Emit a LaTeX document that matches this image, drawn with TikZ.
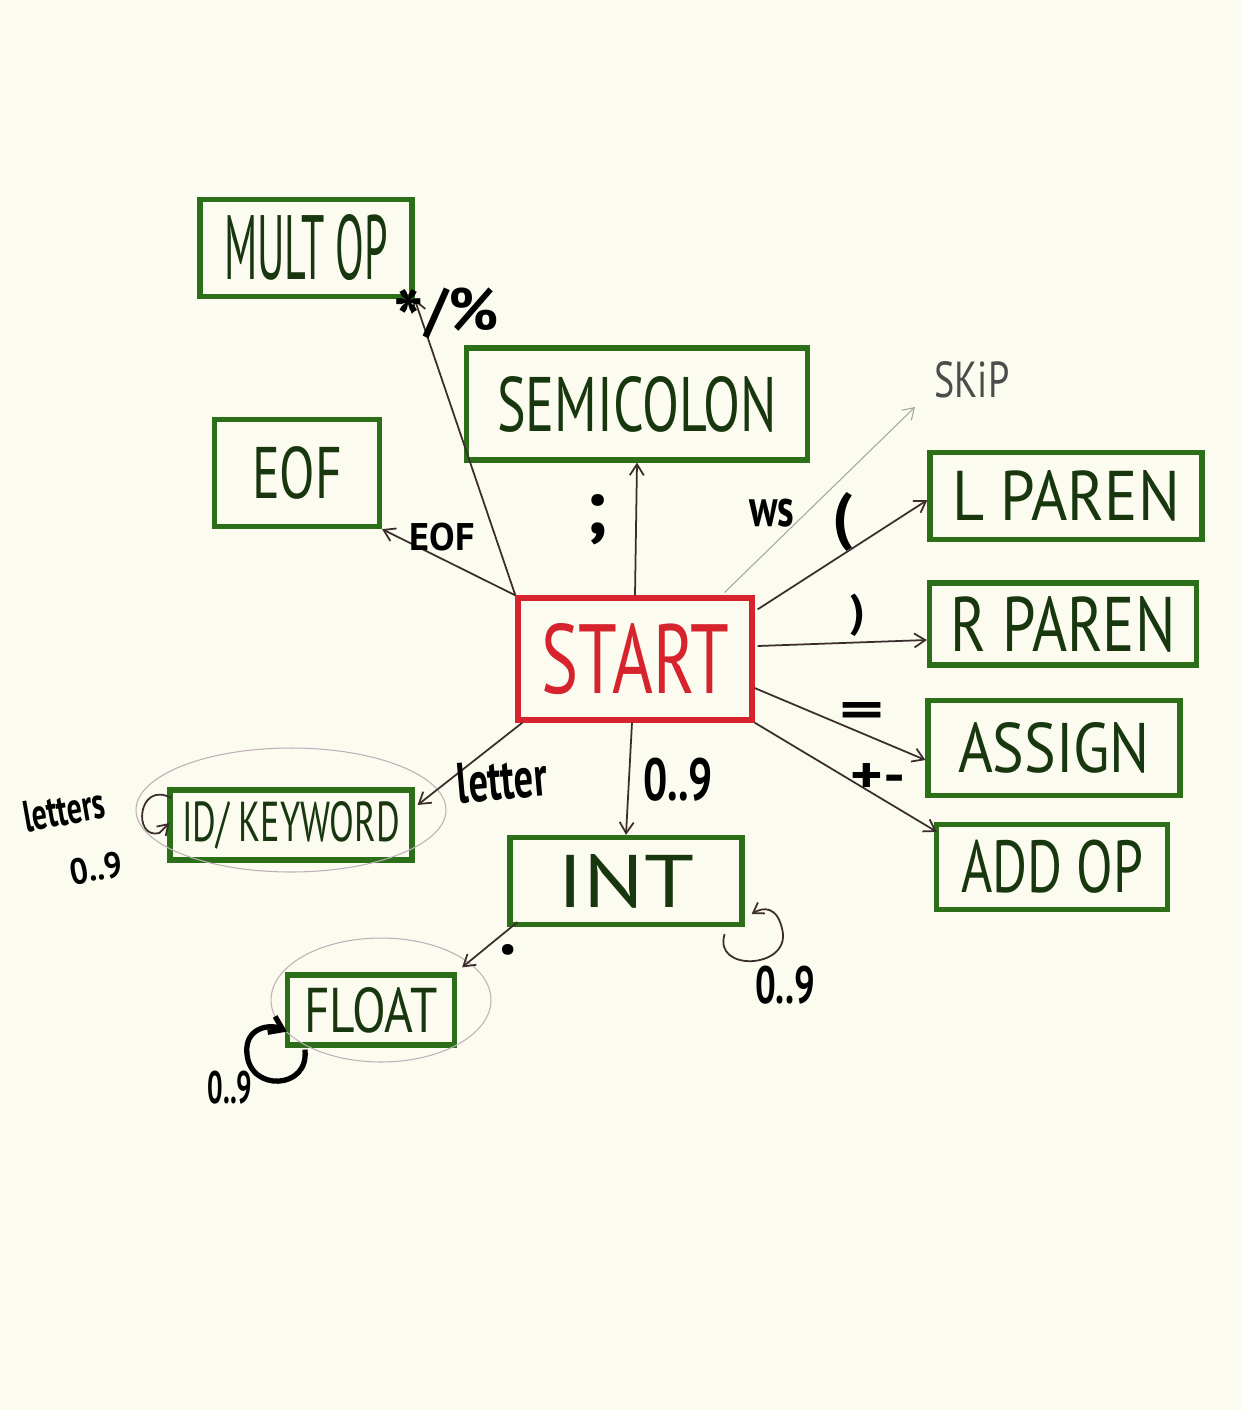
\documentclass[tikz,border=0pt]{standalone}
\usepackage{fontspec}
\setmainfont{PT Sans}
\usetikzlibrary{arrows.meta,calc}
\definecolor{paper}{RGB}{251,251,240}
\definecolor{boxgreen}{RGB}{45,110,25}
\definecolor{boxtext}{RGB}{25,55,15}
\definecolor{startred}{RGB}{215,35,45}
\definecolor{edgec}{RGB}{60,45,45}
\definecolor{faint}{RGB}{190,175,185}
\newcommand{\fitt}[3]{\resizebox{#1}{#2}{#3}}
\begin{document}
\begin{tikzpicture}[x=0.02cm,y=-0.02cm,
  stbox/.style={draw=boxgreen, line width=3pt, text=boxtext, inner sep=0pt},
  startbox/.style={draw=startred, line width=3pt, text=startred, inner sep=0pt},
  conn/.style={draw=edgec, line width=1pt, -{Straight Barb[length=2.2mm,width=2.8mm]}},
  lab/.style={text=black, inner sep=0pt, font=\bfseries},
  loopthin/.style={draw=edgec, line width=1pt, -{Straight Barb[length=2mm,width=2.6mm]}},
  accept/.style={draw=faint, line width=0.6pt}]
\fill[paper] (0,0) rectangle (1242,1410);
\useasboundingbox (0,0) rectangle (1242,1410);

% states
\node[stbox, minimum width=4.24cm, minimum height=1.94cm] (multop) at (306,248) {\fitt{3.28cm}{1.3cm}{MULT OP}};
\node[stbox, minimum width=6.82cm, minimum height=2.24cm] (semi) at (637,404) {\fitt{5.6cm}{1.1cm}{SEMICOLON}};
\node[stbox, minimum width=3.3cm, minimum height=2.14cm] (eof) at (297,473) {\fitt{1.8cm}{1.04cm}{EOF}};
\node[startbox, minimum width=4.68cm, minimum height=2.44cm] (start) at (635,659) {\fitt{3.76cm}{1.4cm}{START}};
\node[stbox, minimum width=5.44cm, minimum height=1.74cm] (lparen) at (1066,496) {\fitt{4.56cm}{1.0cm}{L PAREN}};
\node[stbox, minimum width=5.34cm, minimum height=1.64cm] (rparen) at (1063,624) {\fitt{4.5cm}{1.1cm}{R PAREN}};
\node[stbox, minimum width=5.04cm, minimum height=1.9cm] (assign) at (1054,748) {\fitt{3.84cm}{1.0cm}{ASSIGN}};
\node[stbox, minimum width=4.62cm, minimum height=1.7cm] (addop) at (1052,867) {\fitt{3.64cm}{1.05cm}{ADD OP}};
\node[stbox, minimum width=4.84cm, minimum height=1.4cm] (idkey) at (291,825) {\fitt{4.36cm}{0.8cm}{ID/ KEYWORD}};
\node[stbox, minimum width=4.64cm, minimum height=1.74cm] (int) at (626,881) {\fitt{2.74cm}{1.06cm}{INT}};
\node[stbox, minimum width=3.34cm, minimum height=1.4cm] (float) at (371,1010) {\fitt{2.66cm}{0.9cm}{FLOAT}};

% accepting-state rings
\draw[accept] ($(idkey)+(0,-15)$) ellipse [x radius=3.1cm, y radius=1.24cm];
\draw[accept] ($(float)+(10,-10)$) ellipse [x radius=2.2cm, y radius=1.24cm];

% skip target
\node[text=black!70, inner sep=0pt] (skip) at (972,380) {\fitt{1.5cm}{0.72cm}{SKiP}};
\coordinate (skipend) at (915,407);

% transitions
\draw[conn] (start.north west) -- (multop.south east);
\draw[conn] (start.north) -- (semi.south);
\draw[conn] (start.north west) -- (eof.south east);
\draw[conn, draw=black!35, line width=0.6pt] ($(start.north east)+(-30,-3)$) -- (skipend);
\draw[conn] ($(start.north east)+(3,14)$) -- ($(lparen.west)+(0,4)$);
\draw[conn] ($(start.east)+(3,-13)$) -- ($(rparen.west)+(0,16)$);
\draw[conn] ($(start.east)+(0,29)$) -- ($(assign.west)+(0,12)$);
\draw[conn] (start.south east) -- ($(addop.north west)+(3,10)$);
\draw[conn] ($(start.south west)+(7,0)$) -- ($(idkey.east)+(3,-20)$);
\draw[conn] ($(start.south)+(-3,0)$) -- (int.north);
\draw[conn] ($(int.south west)+(10,-5)$) -- ($(float.north east)+(5,-5)$);

% self loops
\draw[loopthin] ($(int.south east)+(-20,7)$) .. controls ($(int.south east)+(-32,45)$) and ($(int.south east)+(45,42)$) .. ($(int.south east)+(38,4)$) .. controls ($(int.south east)+(33,-22)$) and ($(int.south east)+(18,-20)$) .. ($(int.south east)+(7,-13)$);
\draw[line width=3pt, black, -{Straight Barb[length=2.5mm,width=3.5mm]}] ($(float.south west)+(20,2)$) .. controls ($(float.south west)+(25,42)$) and ($(float.south west)+(-36,45)$) .. ($(float.south west)+(-38,5)$) .. controls ($(float.south west)+(-40,-20)$) and ($(float.south west)+(-15,-24)$) .. ($(float.south west)+(2,-16)$);
\draw[loopthin] ($(idkey.west)+(4,-27)$) .. controls ($(idkey.west)+(-30,-45)$) and ($(idkey.west)+(-35,15)$) .. ($(idkey.west)+(-8,8)$) -- ($(idkey.west)+(2,-2)$);

% labels
\node[lab, font=\fontsize{34}{36}\bfseries\selectfont] (lmult) at (446,318) {\raisebox{-0.3em}{\fontsize{46}{46}\selectfont *}/\%};
\node[lab] (leof) at (442,537) {\fitt{1.3cm}{0.55cm}{EOF}};
\node[lab, font=\fontsize{44}{46}\bfseries\selectfont] (lsemi) at (597,520) {;};
\node[lab] (lws) at (772,513) {\fitt{0.9cm}{0.55cm}{ws}};
\node[lab, font=\fontsize{36}{40}\bfseries\selectfont] (llp) at (843,522) {(};
\node[lab, font=\fontsize{26}{30}\bfseries\selectfont] (lrp) at (858,615) {)};
\node[lab] (leq) at (862,715) {\fitt{0.9cm}{0.5cm}{=}};
\node[lab] (lpm) at (878,778) {\fitt{1.1cm}{0.6cm}{+-}};
\node[lab, rotate=5] (lletter) at (502,780) {\fitt{1.8cm}{0.8cm}{letter}};
\node[lab] (lint) at (678,780) {\fitt{1.4cm}{0.85cm}{0..9}};
\node[lab, font=\fontsize{40}{44}\bfseries\selectfont] (ldot) at (508,950) {.};
\node[lab] (lintloop) at (785,985) {\fitt{1.2cm}{0.75cm}{0..9}};
\node[lab] (lfloop) at (230,1088) {\fitt{0.9cm}{0.65cm}{0..9}};
\node[lab, rotate=10] (lletters) at (64,810) {\fitt{1.65cm}{0.62cm}{letters}};
\node[lab, rotate=10] (lidnum) at (96,868) {\fitt{1.05cm}{0.52cm}{0..9}};
\end{tikzpicture}
\end{document}
